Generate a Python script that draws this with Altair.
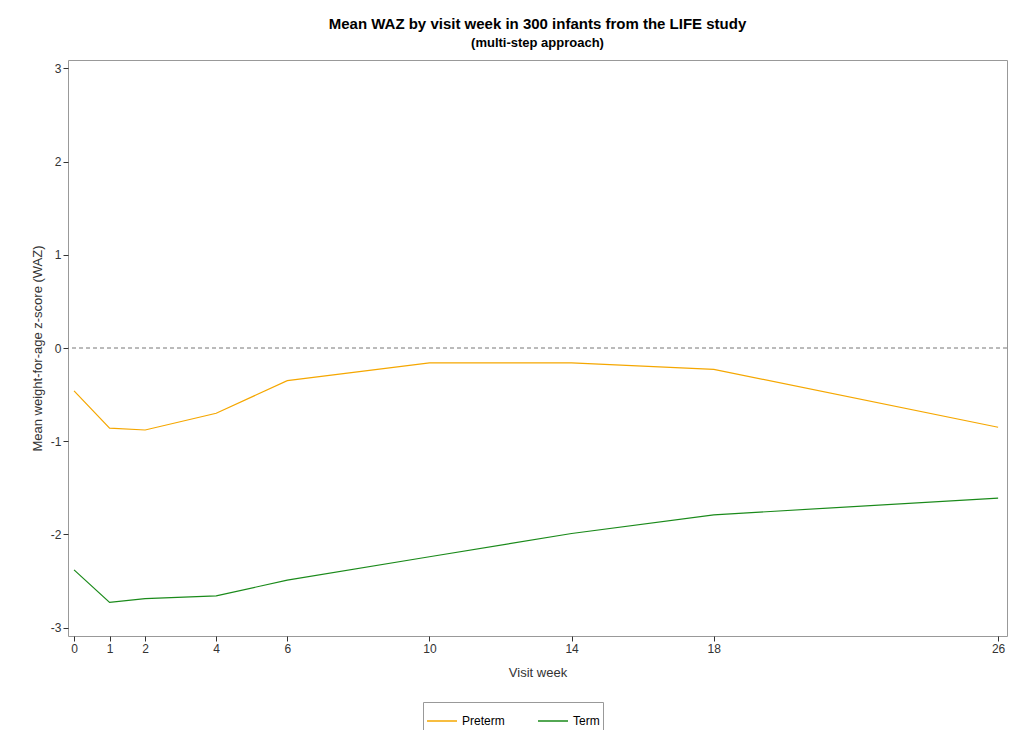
import altair as alt
import pandas as pd

weeks = [0, 1, 2, 4, 6, 10, 14, 18, 26]
preterm = [-0.46, -0.86, -0.88, -0.70, -0.35, -0.16, -0.16, -0.23, -0.85]
term = [-2.38, -2.73, -2.69, -2.66, -2.49, -2.24, -1.99, -1.79, -1.61]

df = pd.DataFrame({
    'week': weeks * 2,
    'waz': preterm + term,
    'group': ['Preterm'] * len(weeks) + ['Term'] * len(weeks),
})

x = alt.X('week:Q', title='Visit week',
          scale=alt.Scale(domain=[-0.17, 26.25], nice=False, zero=False),
          axis=alt.Axis(values=weeks, grid=False, titlePadding=12, format='d'))
y = alt.Y('waz:Q', title='Mean weight-for-age z-score (WAZ)',
          scale=alt.Scale(domain=[-3.09, 3.09], nice=False),
          axis=alt.Axis(values=[-3, -2, -1, 0, 1, 2, 3], grid=False, titlePadding=6,
                        labelExpr="'' + datum.value"))

lines = alt.Chart(df).mark_line(strokeWidth=1.2).encode(
    x=x, y=y,
    color=alt.Color('group:N', title=None,
                    scale=alt.Scale(domain=['Preterm', 'Term'], range=['#f5a700', '#1a8a1a']),
                    legend=alt.Legend(orient='none', direction='horizontal', legendX=355, legendY=642,
                                      strokeColor='#999999', padding=3, symbolType='stroke',
                                      symbolSize=900, labelFontSize=12, columnPadding=30))
)

zero = alt.Chart(pd.DataFrame({'z': [0]})).mark_rule(strokeDash=[4, 3], color='#777777').encode(y='z:Q')

chart = (zero + lines).properties(
    width=939, height=576,
    autosize=alt.AutoSizeParams(type='none'),
    padding={'left': 60, 'top': 52, 'right': 9, 'bottom': 94},
    title=alt.TitleParams('Mean WAZ by visit week in 300 infants from the LIFE study',
                          subtitle='(multi-step approach)', fontSize=15, subtitleFontSize=13,
                          subtitleFontWeight='bold', fontWeight='bold', offset=10, subtitlePadding=5,
                          anchor='middle'),
).configure(font='Liberation Sans').configure_view(stroke='#999999').configure_axis(
    labelFontSize=12, titleFontSize=13, titleFontWeight='normal', labelColor='#333', titleColor='#333',
    domain=False, tickColor='#333'
)

chart.save("out.html", embed_options={"renderer": "svg", "actions": False})
